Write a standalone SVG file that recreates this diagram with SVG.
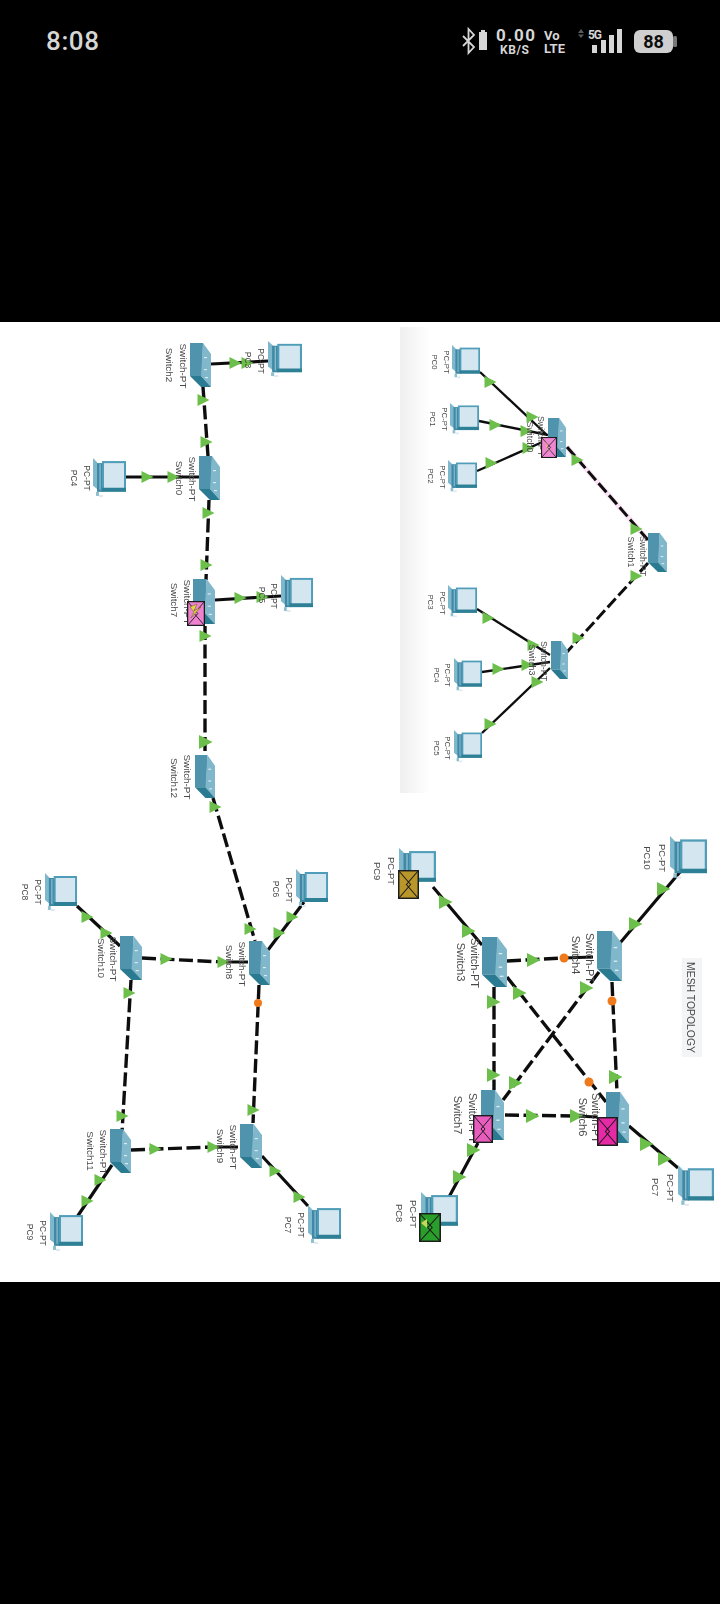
<svg xmlns="http://www.w3.org/2000/svg" width="720" height="1604" viewBox="0 0 720 1604">
<style>
.st{font-family:Roboto,"Liberation Sans",sans-serif;fill:#d6d6d6}
.lb{font-family:"Liberation Sans",Arial,sans-serif;fill:#4a4a4a;text-anchor:middle}
.a1{font-size:7.8px}.a2{font-size:8.5px}.a3{font-size:9.4px}
.s1{font-size:8.8px}.s2{font-size:9.9px}.s3{font-size:11px}
.d{fill:none;stroke:#111;stroke-width:3.4;stroke-dasharray:14 4.500}
.l{fill:none;stroke:#111;stroke-width:3.200}
.d1{stroke-width:3;stroke-dasharray:12 4}.l1{stroke-width:2.400}
.dot{fill:#ee7a1e}
.g{fill:#6cbf4b}
</style>
<defs>
<filter id="soft" x="0" y="0" width="1" height="1"><feGaussianBlur stdDeviation="0.4"/></filter>
<linearGradient id="fade" x1="0" x2="1" y1="0" y2="0"><stop offset="0" stop-color="#efefef"/><stop offset="1" stop-color="#fff"/></linearGradient>
<polygon id="t" points="-6,-7 7.500,0 -6,7"/>
<polygon id="m" points="-5.500,-6 6.500,0 -5.500,6"/>
<symbol id="pc" viewBox="0 0 33 39" preserveAspectRatio="none">
<polygon points="0,0 5,5 5,31 0,27" fill="#7fb8cc"/>
<rect x="4" y="5" width="6" height="28" fill="#3f89a6"/>
<rect x="6.500" y="6" width="1.200" height="25" fill="#8fc0d0"/>
<rect x="10" y="4" width="22" height="27" fill="#d4e6ef" stroke="#4f9db8" stroke-width="2"/>
<rect x="9" y="29" width="24" height="4" fill="#2f8096"/>
<rect x="3" y="33" width="3" height="4" fill="#8fc0d0"/>
<rect x="6" y="36" width="4" height="2" fill="#dfeaef"/>
</symbol>
<symbol id="sw" viewBox="0 0 21 44" preserveAspectRatio="none">
<polygon points="0,0 13,0 12,33 0,33" fill="#4f93ad"/>
<polygon points="13,0 21,11 21,44 11,33" fill="#80b7ca"/>
<polygon points="0,33 11,33 21,44 11,44" fill="#2c7a92"/>
<rect x="14" y="14" width="3" height="1.200" fill="#d8ebf2"/><rect x="14" y="26" width="3" height="1.200" fill="#d8ebf2"/><rect x="15" y="34" width="3" height="1.200" fill="#d8ebf2"/>
</symbol>
<symbol id="env" viewBox="0 0 20 28" preserveAspectRatio="none">
<rect x="0.700" y="0.700" width="18.600" height="26.600" stroke="#1c1c1c" stroke-width="1.400"/>
<path d="M0.700 0.700L12 14L0.700 27.300M19.300 0.700L8 14L19.300 27.300" fill="none" stroke="#1c1c1c" stroke-width="1"/>
</symbol>
</defs>
<rect id="screen" width="720" height="1604" fill="#000"/>
<g id="status">
<text class="st" x="46" y="50" font-size="26" font-weight="500" textLength="53">8:08</text>
<path d="M463 36L474 47L468.500 53V29L474 35L463 46" fill="none" stroke="#d6d6d6" stroke-width="1.800"/>
<rect x="479" y="32" width="8" height="18" fill="#d6d6d6"/><rect x="481" y="30" width="4" height="2" fill="#d6d6d6"/>
<text class="st" x="496" y="41" font-size="17" font-weight="700" textLength="39">0.00</text>
<text class="st" x="500" y="53.500" font-size="12" font-weight="700" textLength="29">KB/S</text>
<text class="st" x="544" y="40" font-size="13" font-weight="700">Vo</text>
<text class="st" x="544" y="53" font-size="13" font-weight="700" textLength="21">LTE</text>
<path d="M578 33L581 29L584 33ZM578 34.500L581 38L584 34.500Z" fill="#5a5a5a"/>
<text class="st" x="588" y="39" font-size="12" font-weight="700" textLength="14">5G</text>
<rect x="592" y="45" width="5" height="8" fill="#d6d6d6"/><rect x="601" y="40" width="5" height="13" fill="#d6d6d6"/><rect x="609" y="35" width="5" height="18" fill="#d6d6d6"/><rect x="617" y="29" width="5" height="24" fill="#d6d6d6"/>
<rect x="634" y="30" width="39" height="23" rx="6" fill="#cfcfcf"/><rect x="673" y="36" width="4" height="11" rx="1.500" fill="#777"/>
<text x="653.500" y="48" font-family="Roboto,'Liberation Sans',sans-serif" font-size="18" font-weight="700" text-anchor="middle" fill="#0c0c0c">88</text>
</g>
<g filter="url(#soft)">
<rect id="page" x="0" y="322" width="720" height="960" fill="#fff"/>
<rect id="strip" x="400" y="327" width="30" height="466" fill="url(#fade)"/>
<g id="mesh-title"><rect x="682" y="958" width="20" height="99" fill="#f3f4f6"/>
<text class="lb" transform="translate(686.500,1007.500) rotate(90)" font-size="10.400">MESH TOPOLOGY</text></g>

<g id="connectors">
<path class="l l1" d="M480 372L547 435M479 421L548 435M477 471L547 440M477 609L550 655M482 672L550 662M482 733L550 668"/>
<path d="M567 447L648 540" fill="none" stroke="#fbe3f6" stroke-width="5"/>
<path class="d d1" d="M567 447L648 540M648 563L567 652"/>
<path class="d" d="M507 961L564 958M494 987V1090M507 977L606 1102M599 972L503 1100M612 982L617 1092M505 1115L576 1116"/>
<path class="l" d="M564 958L593 957M576 1116L597 1117M433 887L482 945M680 872L620 943M478 1143L449 1197M629 1126L678 1168"/>
<path class="l" d="M211 364L268 361M126 477L199 477M215 600L281 596M77 906L120 946M304 902L268 950M112 1165L77 1217M262 1156L308 1206M223 962L248 962M213 1147L238 1147"/>
<path class="d" d="M203 387L208 456M209 500L206 580M205 626V755M213 798L255 941M142 958L223 962M131 980L122 1132M259 985L253 1123M131 1150L213 1147"/>
<g class="g">
<use href="#m" x="490" y="382"/><use href="#m" x="532" y="417"/><use href="#m" x="495" y="425"/><use href="#m" x="526" y="431"/><use href="#m" x="491" y="463"/><use href="#m" x="528" y="448"/><use href="#m" x="577" y="460"/><use href="#m" x="636" y="529"/><use href="#m" x="636" y="576"/><use href="#m" x="578" y="638"/><use href="#m" x="488" y="618"/><use href="#m" x="533" y="645"/><use href="#m" x="498" y="669"/><use href="#m" x="527" y="665"/><use href="#m" x="490" y="724"/><use href="#m" x="537" y="682"/>
<use href="#t" x="533" y="960"/><use href="#t" x="493" y="1002"/><use href="#t" x="493" y="1075"/><use href="#t" x="519" y="993"/><use href="#t" x="586" y="988"/><use href="#t" x="515" y="1083"/><use href="#t" x="615" y="1077"/><use href="#t" x="532" y="1116"/><use href="#t" x="576" y="1116"/><use href="#t" x="445" y="902"/><use href="#t" x="468" y="931"/><use href="#t" x="663" y="889"/><use href="#t" x="635" y="924"/><use href="#t" x="473" y="1150"/><use href="#t" x="459" y="1177"/><use href="#t" x="646" y="1144"/><use href="#t" x="664" y="1159"/>
<use href="#m" x="235" y="363"/><use href="#m" x="247" y="363"/><use href="#m" x="203" y="400"/><use href="#m" x="206" y="442"/><use href="#m" x="147" y="477"/><use href="#m" x="173" y="477"/><use href="#m" x="208" y="513"/><use href="#m" x="206" y="565"/><use href="#m" x="240" y="598"/><use href="#m" x="262" y="597"/><use href="#m" x="205" y="636"/><use href="#t" x="205" y="742"/><use href="#m" x="215" y="807"/><use href="#m" x="250" y="929"/>
<use href="#m" x="87" y="917"/><use href="#m" x="106" y="933"/><use href="#m" x="292" y="917"/><use href="#m" x="279" y="933"/><use href="#m" x="166" y="959"/><use href="#m" x="223" y="962"/><use href="#m" x="129" y="993"/><use href="#m" x="122" y="1116"/><use href="#m" x="253" y="1110"/><use href="#m" x="155" y="1149"/><use href="#m" x="213" y="1147"/><use href="#m" x="100" y="1180"/><use href="#m" x="87" y="1201"/><use href="#m" x="275" y="1171"/><use href="#m" x="299" y="1197"/>
</g>
<circle class="dot" cx="564" cy="958" r="4.500"/><circle class="dot" cx="589" cy="1082" r="4.500"/><circle class="dot" cx="612" cy="1001" r="4.500"/><circle class="dot" cx="258" cy="1003" r="4"/>
</g>

<g id="t-pc0"><use href="#pc" x="452" y="345" width="28" height="34"/><text class="lb a1" transform="translate(444,362) rotate(90)">PC-PT</text><text class="lb a1" transform="translate(432,362) rotate(90)">PC0</text></g>
<g id="t-pc1"><use href="#pc" x="450" y="403" width="29" height="32"/><text class="lb a1" transform="translate(442,419) rotate(90)">PC-PT</text><text class="lb a1" transform="translate(430,419) rotate(90)">PC1</text></g>
<g id="t-pc2"><use href="#pc" x="448" y="460" width="29" height="33"/><text class="lb a1" transform="translate(440,477) rotate(90)">PC-PT</text><text class="lb a1" transform="translate(428,476) rotate(90)">PC2</text></g>
<g id="t-pc3"><use href="#pc" x="448" y="585" width="29" height="33"/><text class="lb a1" transform="translate(440,603) rotate(90)">PC-PT</text><text class="lb a1" transform="translate(428,602) rotate(90)">PC3</text></g>
<g id="t-pc4"><use href="#pc" x="454" y="658" width="28" height="34"/><text class="lb a1" transform="translate(445,675) rotate(90)">PC-PT</text><text class="lb a1" transform="translate(434,675) rotate(90)">PC4</text></g>
<g id="t-pc5"><use href="#pc" x="454" y="730" width="28" height="33"/><text class="lb a1" transform="translate(445,748) rotate(90)">PC-PT</text><text class="lb a1" transform="translate(434,748) rotate(90)">PC5</text></g>
<g id="t-switch0"><use href="#sw" x="548" y="418" width="18" height="39"/><text class="lb s1" transform="translate(538,436) rotate(90)">Switch-PT</text><text class="lb s1" transform="translate(527,437) rotate(90)">Switch0</text><use href="#env" x="541" y="437" width="16" height="21" fill="#ef86d2"/><polygon points="544,441 548,444 546,446 552,453 546,447 548,445" fill="#e9d34a"/></g>
<g id="t-switch1"><use href="#sw" x="648" y="533" width="19" height="39"/><text class="lb s1" transform="translate(640,556) rotate(90)">Switch-PT</text><text class="lb s1" transform="translate(628,552) rotate(90)">Switch1</text></g>
<g id="t-switch3"><use href="#sw" x="551" y="641" width="17" height="38"/><text class="lb s1" transform="translate(541,661) rotate(90)">Switch-PT</text><text class="lb s1" transform="translate(529,660) rotate(90)">Switch3</text></g>

<g id="m-pc9"><use href="#pc" x="399" y="848" width="37" height="40"/><text class="lb a3" transform="translate(388,871) rotate(90)">PC-PT</text><text class="lb a3" transform="translate(374,871) rotate(90)">PC9</text><use href="#env" x="398" y="870" width="21" height="29" fill="#b8962a"/></g>
<g id="m-pc10"><use href="#pc" x="670" y="836" width="37" height="44"/><text class="lb a3" transform="translate(659,858) rotate(90)">PC-PT</text><text class="lb a3" transform="translate(644,858) rotate(90)">PC10</text></g>
<g id="m-pc8"><use href="#pc" x="421" y="1192" width="37" height="40"/><text class="lb a3" transform="translate(410,1214) rotate(90)">PC-PT</text><text class="lb a3" transform="translate(396,1213) rotate(90)">PC8</text><use href="#env" x="419" y="1213" width="22" height="29" fill="#2a9e2a"/><polygon points="421,1223 427,1219 427,1228" fill="#c9d65a"/></g>
<g id="m-pc7"><use href="#pc" x="678" y="1165" width="36" height="42"/><text class="lb a3" transform="translate(667,1188) rotate(90)">PC-PT</text><text class="lb a3" transform="translate(652,1187) rotate(90)">PC7</text></g>
<g id="m-switch3"><use href="#sw" x="482" y="937" width="25" height="50"/><text class="lb s3" transform="translate(471,963) rotate(90)">Switch-PT</text><text class="lb s3" transform="translate(457,962) rotate(90)">Switch3</text></g>
<g id="m-switch4"><use href="#sw" x="597" y="931" width="25" height="50"/><text class="lb s3" transform="translate(586,958) rotate(90)">Switch-PT</text><text class="lb s3" transform="translate(572,955) rotate(90)">Switch4</text></g>
<g id="m-switch7"><use href="#sw" x="481" y="1090" width="23" height="50"/><text class="lb s3" transform="translate(469,1118) rotate(90)">Switch-PT</text><text class="lb s3" transform="translate(454,1115) rotate(90)">Switch7</text><use href="#env" x="473" y="1115" width="20" height="28" fill="#e85bbd"/></g>
<g id="m-switch6"><use href="#sw" x="606" y="1092" width="23" height="51"/><text class="lb s3" transform="translate(592,1118) rotate(90)">Switch-PT</text><text class="lb s3" transform="translate(579,1117) rotate(90)">Switch6</text><use href="#env" x="597" y="1117" width="21" height="29" fill="#e62aa5"/></g>

<g id="c-pc3"><use href="#pc" x="268" y="341" width="34" height="37"/><text class="lb a2" transform="translate(258,361) rotate(90)">PC-PT</text><text class="lb a2" transform="translate(245,360) rotate(90)">PC3</text></g>
<g id="c-pc4"><use href="#pc" x="93" y="458" width="33" height="40"/><text class="lb a2" transform="translate(84,478) rotate(90)">PC-PT</text><text class="lb a2" transform="translate(71,478) rotate(90)">PC4</text></g>
<g id="c-pc5"><use href="#pc" x="281" y="575" width="32" height="38"/><text class="lb a2" transform="translate(271,596) rotate(90)">PC-PT</text><text class="lb a2" transform="translate(259,595) rotate(90)">PC5</text></g>
<g id="c-pc6"><use href="#pc" x="296" y="869" width="32" height="39"/><text class="lb a2" transform="translate(286,890) rotate(90)">PC-PT</text><text class="lb a2" transform="translate(273,889) rotate(90)">PC6</text></g>
<g id="c-pc8"><use href="#pc" x="45" y="873" width="32" height="39"/><text class="lb a2" transform="translate(35,892) rotate(90)">PC-PT</text><text class="lb a2" transform="translate(22,892) rotate(90)">PC8</text></g>
<g id="c-pc9"><use href="#pc" x="50" y="1212" width="33" height="40"/><text class="lb a2" transform="translate(40,1233) rotate(90)">PC-PT</text><text class="lb a2" transform="translate(27,1232) rotate(90)">PC9</text></g>
<g id="c-pc7"><use href="#pc" x="308" y="1205" width="33" height="40"/><text class="lb a2" transform="translate(298,1225) rotate(90)">PC-PT</text><text class="lb a2" transform="translate(285,1225) rotate(90)">PC7</text></g>
<g id="c-switch2"><use href="#sw" x="190" y="343" width="21" height="44"/><text class="lb s2" transform="translate(179.500,366) rotate(90)">Switch-PT</text><text class="lb s2" transform="translate(165.500,365) rotate(90)">Switch2</text></g>
<g id="c-switch0"><use href="#sw" x="199" y="456" width="21" height="44"/><text class="lb s2" transform="translate(188.500,479) rotate(90)">Switch-PT</text><text class="lb s2" transform="translate(175.500,478) rotate(90)">Switch0</text></g>
<g id="c-switch7"><use href="#sw" x="193" y="579" width="22" height="45"/><text class="lb s2" transform="translate(183.500,602) rotate(90)">Switch-PT</text><text class="lb s2" transform="translate(170.500,600) rotate(90)">Switch7</text><use href="#env" x="187" y="601" width="18" height="25" fill="#ee82cf"/><polygon points="190,607 197,604 194,611 201,607 191,618 194,612" fill="#e9d34a" stroke="#5a5a20" stroke-width="0.500"/></g>
<g id="c-switch12"><use href="#sw" x="195" y="755" width="20" height="43"/><text class="lb s2" transform="translate(183.500,777) rotate(90)">Switch-PT</text><text class="lb s2" transform="translate(170.500,778) rotate(90)">Switch12</text></g>
<g id="c-switch10"><use href="#sw" x="120" y="936" width="22" height="44"/><text class="lb s2" transform="translate(109.500,959) rotate(90)">Switch-PT</text><text class="lb s2" transform="translate(97.500,958) rotate(90)">Switch10</text></g>
<g id="c-switch8"><use href="#sw" x="249" y="941" width="21" height="44"/><text class="lb s2" transform="translate(238.500,964) rotate(90)">Switch-PT</text><text class="lb s2" transform="translate(225.500,962) rotate(90)">Switch8</text></g>
<g id="c-switch11"><use href="#sw" x="110" y="1129" width="21" height="44"/><text class="lb s2" transform="translate(99.500,1152) rotate(90)">Switch-PT</text><text class="lb s2" transform="translate(86.500,1151) rotate(90)">Switch11</text></g>
<g id="c-switch9"><use href="#sw" x="240" y="1124" width="22" height="44"/><text class="lb s2" transform="translate(229.500,1147) rotate(90)">Switch-PT</text><text class="lb s2" transform="translate(216.500,1146) rotate(90)">Switch9</text></g>
</g>
</svg>
